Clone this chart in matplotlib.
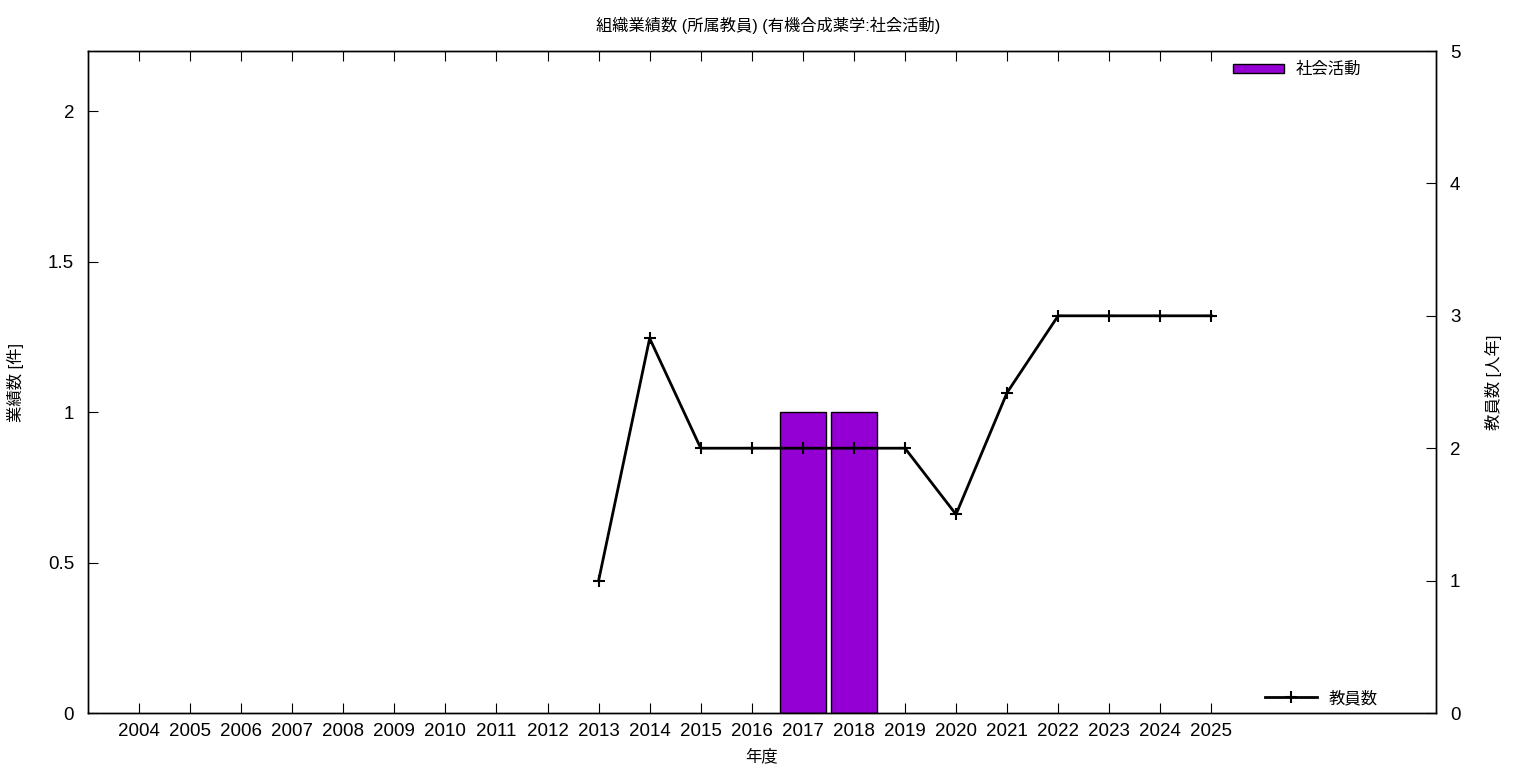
import matplotlib
matplotlib.use("Agg")
import matplotlib.pyplot as plt
import numpy as np

plt.rcParams['font.family'] = ['Liberation Sans', 'Noto Sans CJK JP', 'DejaVu Sans']

years = [str(y) for y in range(2004, 2026)]
activity = [0, 0, 0, 0, 0, 0, 0, 0, 0, 0, 0, 0, 0, 1, 1, 0, 0, 0, 0, 0, 0, 0]
staff_years = ['2013', '2014', '2015', '2016', '2017', '2018', '2019', '2020', '2021', '2022', '2023', '2024', '2025']
staff = [1, 2.83, 2, 2, 2, 2, 2, 1.5, 2.42, 3, 3, 3, 3]

fig = plt.figure(figsize=(15.36, 7.68), dpi=100)
ax = fig.add_axes([88/1536, 55/768, (1436-88)/1536, (713-51)/768])
ax2 = ax.twinx()

x = np.arange(len(years))
act = np.array(activity, dtype=float)
act[act == 0] = np.nan
ax.bar(x, act, width=0.9, color='#9400D3', edgecolor='black', linewidth=1, label='社会活動', zorder=2)
xs = [years.index(y) for y in staff_years]
ax2.plot(xs, staff, color='black', linewidth=2, marker='+', markersize=9, markeredgewidth=1.5, label='教員数')

ax.set_xlim(-1, 25.4)
ax.set_ylim(0, 2.2)
ax2.set_ylim(0, 5)
ax.set_xticks(x)
ax.set_xticklabels(years)
ax.set_yticks([0, 0.5, 1, 1.5, 2])
ax.set_yticklabels(['0', '0.5', '1', '1.5', '2'])
ax2.set_yticks([0, 1, 2, 3, 4, 5])

ax.tick_params(axis='x', direction='in', top=True, length=7, labelsize=13.5, pad=7)
ax.tick_params(axis='y', direction='in', length=7, labelsize=13.5, pad=10)
ax2.tick_params(axis='y', direction='in', length=7, labelsize=13.5, pad=10)
for a in (ax, ax2):
    for s in a.spines.values():
        s.set_linewidth(1)

ax.set_xlabel('年度', fontsize=11.8, labelpad=6)
ax.set_ylabel('業績数 [件]', fontsize=11.8, labelpad=17)
ax2.set_ylabel('教員数 [人年]', fontsize=11.8, rotation=90, labelpad=18)
fig.text(0.5, 1 - 25/768, '組織業績数 (所属教員) (有機合成薬学:社会活動)', ha='center', va='center', fontsize=11.7)

leg1 = ax.legend(loc='upper right', bbox_to_anchor=((1361-88)/1348, 1 - 11/662), frameon=False, fontsize=11.8,
                 handlelength=3.1, handleheight=0.55, handletextpad=0.7, borderpad=0, borderaxespad=0)
leg2 = ax2.legend(loc='lower right', bbox_to_anchor=((1378-88)/1348, 7/662), frameon=False, fontsize=11.8,
                  handlelength=3.2, handletextpad=0.7, borderpad=0, borderaxespad=0)

fig.savefig('out.png', dpi=100)
